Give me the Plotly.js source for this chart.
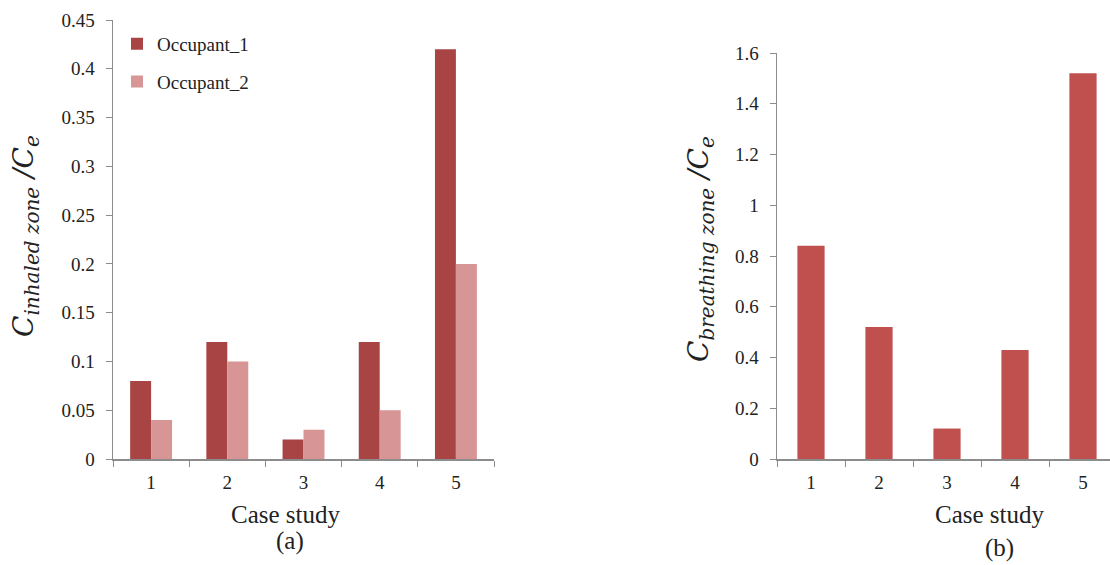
<!DOCTYPE html>
<html>
<head>
<meta charset="utf-8">
<script src="https://cdn.plot.ly/plotly-3.0.1.min.js"></script>
<style>html,body{margin:0;padding:0;background:#fff;}#chart{width:1110px;height:565px;}</style>
</head>
<body>
<div id="chart"></div>
<script>
const cases = ["1", "2", "3", "4", "5"];
const occupant1 = [0.08, 0.12, 0.02, 0.12, 0.42];
const occupant2 = [0.04, 0.10, 0.03, 0.05, 0.20];
const breathingZone = [0.84, 0.52, 0.12, 0.43, 1.52];
const yTicksA = [0, 0.05, 0.1, 0.15, 0.2, 0.25, 0.3, 0.35, 0.4, 0.45];
const yTickTextA = ["0", "0.05", "0.1", "0.15", "0.2", "0.25", "0.3", "0.35", "0.4", "0.45"];
const yTicksB = [0, 0.2, 0.4, 0.6, 0.8, 1, 1.2, 1.4, 1.6];
const yTickTextB = ["0", "0.2", "0.4", "0.6", "0.8", "1", "1.2", "1.4", "1.6"];

const serif = "Liberation Serif";
const mathFont = "DejaVu Serif";
const axisCol = "#8c8c8c";
const W = 1110, H = 565;

const traces = [
  {type: "bar", x: cases, y: occupant1, name: "Occupant_1", xaxis: "x", yaxis: "y",
   marker: {color: "#A94445"}, legendgroup: "a"},
  {type: "bar", x: cases, y: occupant2, name: "Occupant_2", xaxis: "x", yaxis: "y",
   marker: {color: "#D79596"}, legendgroup: "b"},
  {type: "bar", x: cases, y: breathingZone, name: "Breathing zone", xaxis: "x2", yaxis: "y2",
   marker: {color: "#C0504D"}, showlegend: false, width: 0.4}
];

const commonX = {
  type: "category", tickson: "boundaries", ticks: "outside", ticklen: 6, tickcolor: axisCol,
  showline: true, linecolor: axisCol, linewidth: 1.5, showgrid: false, zeroline: false,
  tickfont: {family: serif, size: 19, color: "#222"}, ticklabelstandoff: 6
};
const commonY = {
  ticks: "outside", ticklen: 6, tickcolor: axisCol, showline: true, linecolor: axisCol,
  linewidth: 1.5, showgrid: false, zeroline: false,
  tickfont: {family: serif, size: 19, color: "#222"}, ticklabelstandoff: 7
};

function ann(text, px, py, size, family, angle) {
  return {text: text, xref: "paper", yref: "paper", x: px / W, y: 1 - py / H,
    xanchor: "center", yanchor: "middle", showarrow: false, textangle: angle || 0,
    font: {family: family, size: size, color: "#222"}};
}

const sub = (t) => '<sub><span style="font-size:20px"><i>' + t + '</i></span></sub>';

const layout = {
  width: W, height: H,
  margin: {l: 0, r: 0, t: 0, b: 0},
  paper_bgcolor: "#fff", plot_bgcolor: "#fff",
  font: {family: serif, size: 19, color: "#222"},
  barmode: "group", bargap: 0.45, bargroupgap: 0,
  showlegend: true,
  legend: {x: 117 / W, y: 0.956, xanchor: "left", yanchor: "top", bgcolor: "rgba(0,0,0,0)",
    font: {family: serif, size: 19, color: "#222"}, traceorder: "grouped", tracegroupgap: 10,
    itemwidth: 30},
  xaxis: Object.assign({}, commonX, {domain: [113 / W, 494 / W], range: [-0.5, 4.5], anchor: "y"}),
  yaxis: Object.assign({}, commonY, {domain: [1 - 459 / H, 1 - 20 / H], range: [0, 0.45],
    tickvals: yTicksA, ticktext: yTickTextA, anchor: "x"}),
  xaxis2: Object.assign({}, commonX, {domain: [777 / W, 1], range: [-0.5, 4.397], anchor: "y2"}),
  yaxis2: Object.assign({}, commonY, {domain: [1 - 459 / H, 1 - 53 / H], range: [0, 1.6],
    tickvals: yTicksB, ticktext: yTickTextB, anchor: "x2"}),
  annotations: [
    ann("<i>C</i>" + sub("inhaled zone") + "<i> /C</i>" + sub("e"), 26, 236, 28, mathFont, -90),
    ann("<i>C</i>" + sub("breathing zone") + "<i> /C</i>" + sub("e"), 700, 249, 28, mathFont, -90),
    ann("Case study", 286, 514, 25, serif),
    ann("Case study", 990, 514, 25, serif),
    ann("(a)", 290, 541, 25, serif),
    ann("(b)", 999, 548, 25, serif)
  ]
};

Plotly.newPlot("chart", traces, layout, {staticPlot: true});
</script>
</body>
</html>
